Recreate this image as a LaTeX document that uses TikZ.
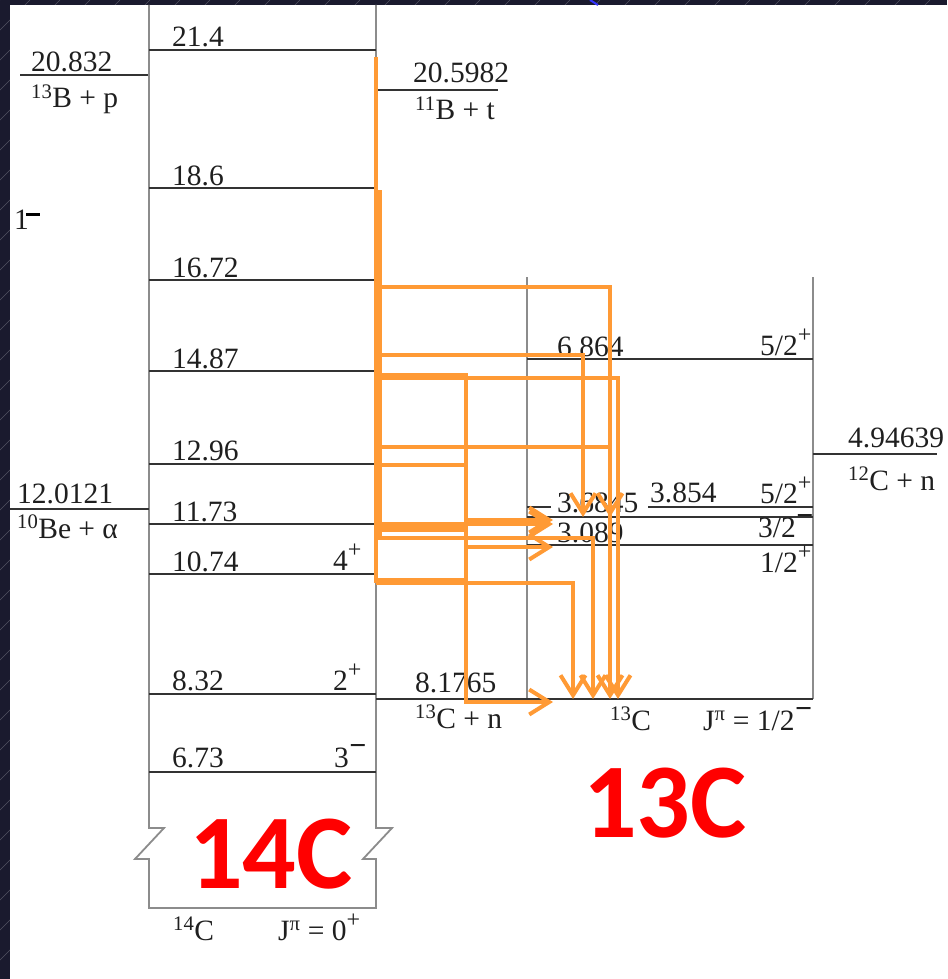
\documentclass[tikz,border=0pt]{standalone}
\usepackage{fontspec}
\setmainfont{Liberation Serif}
\newfontfamily\bigfont{Carlito}
\usetikzlibrary{arrows.meta}
\definecolor{orng}{HTML}{FF9A35}
\definecolor{navy}{HTML}{1A1A2E}
\definecolor{redlab}{HTML}{FF0000}
\newcommand\plusup{\raisebox{0.44em}{\fontsize{24pt}{24pt}\selectfont +}}
\newcommand\minusup{\kern0.5pt\raisebox{0.4em}{\bfseries\fontsize{30pt}{30pt}\selectfont −}}
\begin{document}
\begin{tikzpicture}[x=1pt,y=-1pt,
  lvl/.style={line width=1.6pt, draw=black!80},
  frame/.style={line width=1.8pt, draw=black!45},
  lab/.style={anchor=base west, inner sep=0pt, text=black!88, font=\fontsize{29.5pt}{31pt}\selectfont},
  big/.style={anchor=base west, inner sep=0pt, text=redlab, font=\bigfont\bfseries\fontsize{106pt}{110pt}\selectfont},
  tr/.style={draw=orng, line width=4pt},
  tipr/.style={-{Straight Barb[length=20pt,width=25pt]}}]
% background
\useasboundingbox (0,0) rectangle (947,979);
\fill[navy] (0,0) rectangle (947,979);
\begin{scope}
  \clip (0,0) rectangle (947,5) (0,0) rectangle (10,979);
  \foreach \k in {0,30,...,1950} {\draw[white!25!navy, line width=0.6pt] (\k-1000,1000) -- (\k,0);}
\end{scope}
\fill[white] (10,5) rectangle (947,979);
\draw[blue!80!white, line width=2pt] (590,0) -- (598,5);

% 14C column frame
\draw[frame] (149,5) -- (149,828) -- (164,828) -- (135,859) -- (149,859) -- (149,908)
  -- (376,908) -- (376,859) -- (363,859) -- (392,828) -- (376,828) -- (376,5);
% 14C levels
\foreach \y in {50,188,280,371,464,524,574,694,772} {\draw[lvl] (149,\y) -- (376,\y);}
\node[lab] (l214)  at (172,47)  {21.4};
\node[lab] (l186)  at (172,185) {18.6};
\node[lab] (l1672) at (172,277) {16.72};
\node[lab] (l1487) at (172,368) {14.87};
\node[lab] (l1296) at (172,460) {12.96};
\node[lab] (l1173) at (172,521) {11.73};
\node[lab] (l1074) at (172,571) {10.74};
\node[lab] (l832)  at (172,690) {8.32};
\node[lab] (l673)  at (172,767) {6.73};
\node[lab] (s4) at (333,570) {4\plusup};
\node[lab] (s2) at (333,690) {2\plusup};
\node[lab] (s3) at (334,767) {3\minusup};
\node[lab] (c14) at (173,940) {\textsuperscript{14}C};
\node[lab] (j14) at (278,940) {J\textsuperscript{π} = 0\plusup};

% left thresholds
\draw[lvl] (20,75) -- (148,75);
\node[lab] (t20832) at (31,72) {20.832};
\node[lab] (b13p) at (31,108) {\textsuperscript{13}B + p};
\draw[lvl] (10,509) -- (149,509);
\node[lab] (t12) at (17,503) {12.0121};
\node[lab] (be10) at (17,538) {\textsuperscript{10}Be + α};
\node[lab] (frag) at (14,229) {1};
\draw[line width=3pt, black] (26,214) -- (40,214);

% middle thresholds
\draw[lvl] (376,90) -- (498,90);
\node[lab] (t205) at (413,83) {20.5982};
\node[lab] (b11t) at (415,120) {\textsuperscript{11}B + t};
\node[lab] (t81) at (415,692) {8.1765};
\node[lab] (c13n) at (415,728) {\textsuperscript{13}C + n};

% 13C box
\draw[frame] (527,277) -- (527,699);
\draw[frame] (813,277) -- (813,699);
\draw[lvl] (376,699) -- (813,699);
\draw[lvl] (527,359) -- (813,359);
\draw[lvl] (527,507) -- (551,507);
\draw[lvl] (648,507) -- (813,507);
\draw[lvl] (527,517) -- (813,517);
\draw[lvl] (527,545) -- (813,545);
\draw[lvl] (813,454) -- (937,454);
\node[lab] (l6864) at (557,356) {6.864};
\node[lab] (s52a) at (760,355) {5/2\plusup};
\node[lab] (l3854) at (650,502) {3.854};
\node[lab] (s52b) at (760,503) {5/2\plusup};
\node[lab] (l36845) at (557,512) {3.6845};
\node[lab] (s32) at (758,537) {3/2\minusup};
\node[lab] (l3089) at (557,542) {3.089};
\node[lab] (s12) at (760,572) {1/2\plusup};
\node[lab] (t494) at (848,447) {4.94639};
\node[lab] (c12n) at (848,490) {\textsuperscript{12}C + n};
\node[lab] (c13) at (610,730) {\textsuperscript{13}C};
\node[lab] (j13) at (703,730) {J\textsuperscript{π} = 1/2\minusup};

% big red labels
\node[big] (big14) at (189,888) {14C};
\node[big] (big13) at (583,837) {13C};

% orange transitions
\draw[tr] (376,57) -- (376,583);
\draw[tr, line width=7pt] (378,190) -- (378,538);
\draw[tr, tipr] (376,287) -| (610,699);
\draw[tr, tipr] (376,355) -| (583,517);
\draw[tr, line width=7pt] (376,376) -- (468,376);
\draw[tr, tipr] (466,378) -| (618,699);
\draw[tr, tipr] (376,447) -| (610,517);
\draw[tr, tipr] (466,374) |- (553,702);
\draw[tr] (378,465) -- (466,465);
\draw[tr, line width=6pt] (376,525) -- (466,525);
\draw[tr] (378,530) -- (466,530);
\draw[tr, tipr] (466,520) -- (553,520);
\draw[tr, tipr] (466,524) -- (553,524);
\draw[tr, tipr] (376,538) -| (593,699);
\draw[tr, tipr] (466,547) -- (553,547);
\draw[tr] (378,580) -- (466,580);
\draw[tr, tipr] (376,583) -| (573,699);
\end{tikzpicture}
\end{document}
